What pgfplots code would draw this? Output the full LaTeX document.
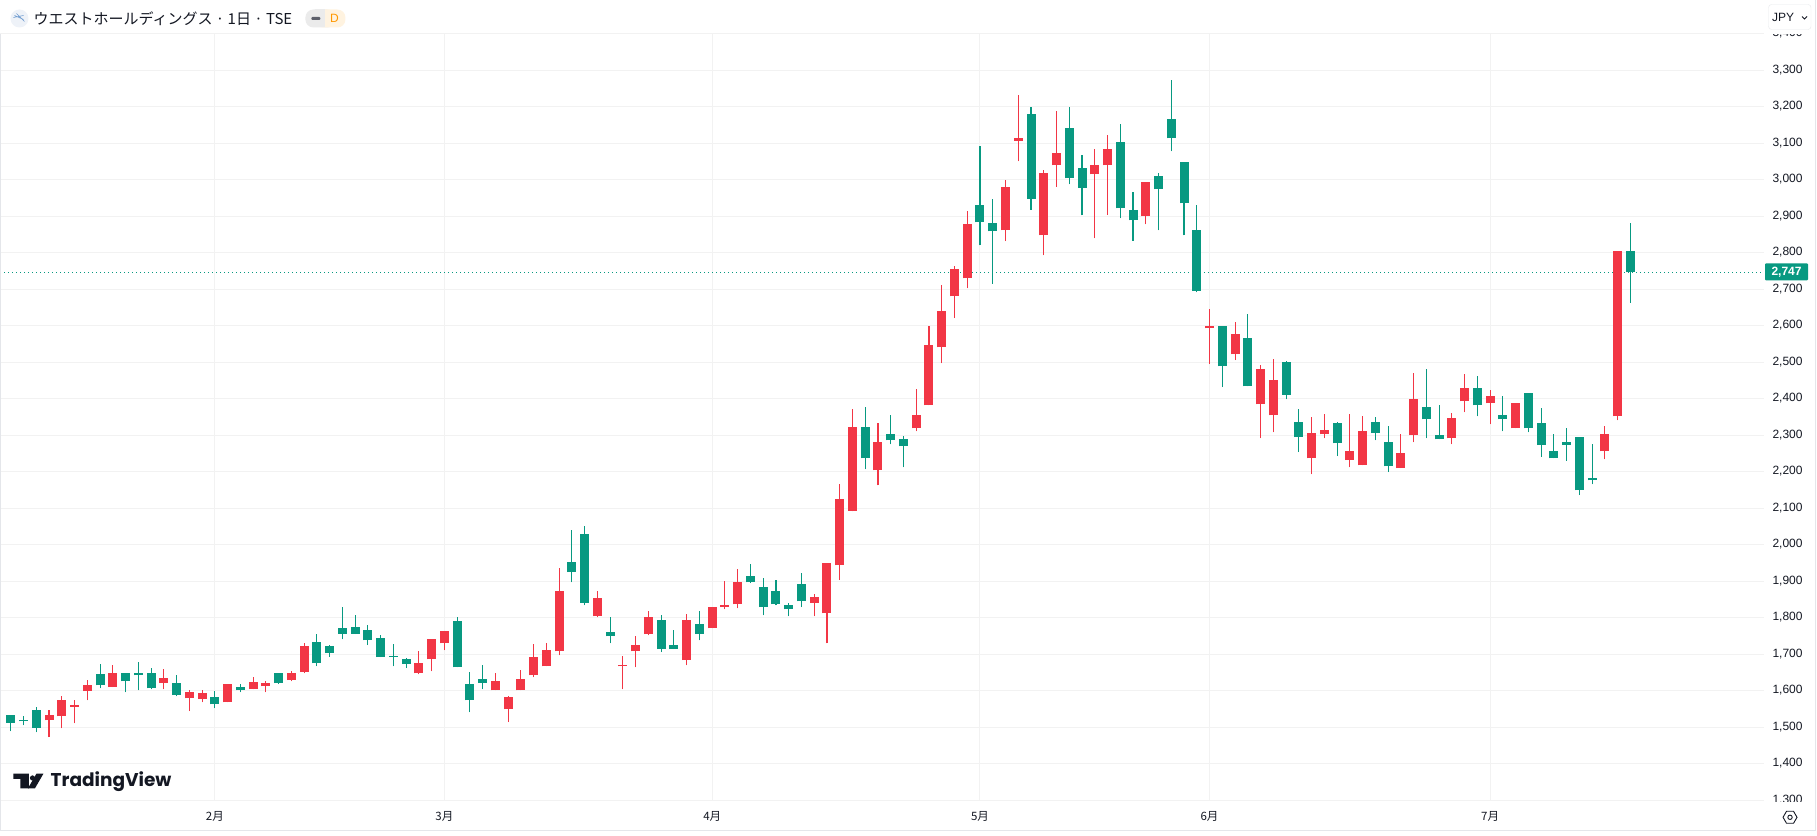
\documentclass[border=0pt]{standalone}
\usepackage{pgfplots}
\usepackage{pgfplotstable}
\usepackage{fontspec}
\pgfplotsset{compat=1.18}
\setmainfont{Liberation Sans}
\newfontfamily\cjk{Noto Sans CJK JP}
\newfontfamily\tvfont{Poppins}
\definecolor{tvgreen}{HTML}{089981}
\definecolor{tvred}{HTML}{F23645}
\definecolor{gridc}{HTML}{F2F2F2}
\definecolor{borderc}{HTML}{E4E6EA}
\definecolor{txt}{HTML}{131722}
\definecolor{iconbg}{HTML}{EEF2F8}
\definecolor{iconfg}{HTML}{6E9BD0}
\definecolor{pillg}{HTML}{EBEBEB}
\definecolor{pillo}{HTML}{FFF3E0}
\definecolor{dorange}{HTML}{FF9800}
\definecolor{dashc}{HTML}{5D606B}
\definecolor{btn}{HTML}{E8E9EC}
\pgfplotstableread{
x top bot hi lo
3 1533 1519 1547 1473
4 1574 1530 1585 1497
5 1560 1557 1574 1511
6 1615 1599 1629 1574
8 1648 1610 1670 1610
12 1634 1621 1659 1604
14 1596 1579 1601 1544
15 1593 1577 1601 1568
17 1618 1568 1618 1568
19 1623 1604 1637 1604
20 1621 1612 1626 1596
22 1648 1629 1653 1626
23 1722 1651 1730 1648
32 1675 1648 1708 1645
33 1741 1686 1741 1653
34 1763 1730 1763 1711
38 1626 1601 1648 1601
39 1582 1549 1585 1514
40 1631 1601 1656 1601
41 1694 1642 1727 1637
42 1711 1667 1730 1667
43 1873 1708 1936 1697
46 1853 1804 1873 1801
48 1670 1667 1695 1604
49 1725 1708 1749 1664
50 1801 1755 1818 1752
53 1793 1684 1810 1670
55 1831 1771 1831 1771
56 1834 1829 1900 1823
57 1897 1837 1933 1826
63 1856 1842 1864 1804
64 1949 1812 1949 1730
65 2125 1944 2166 1905
66 2322 2094 2371 2092
68 2281 2204 2333 2163
71 2357 2319 2426 2311
72 2549 2382 2599 2382
73 2640 2541 2711 2497
74 2757 2681 2763 2621
75 2878 2730 2916 2703
78 2982 2862 3001 2832
79 3116 3108 3232 3051
81 3018 2848 3026 2793
82 3073 3040 3188 2982
85 3042 3015 3086 2840
86 3086 3040 3122 2905
89 2993 2900 2993 2878
94 2601 2593 2645 2495
96 2579 2522 2612 2506
98 2481 2385 2492 2292
99 2451 2355 2508 2308
102 2306 2237 2349 2193
103 2314 2303 2358 2292
105 2256 2232 2358 2212
106 2311 2218 2352 2218
109 2251 2210 2303 2210
110 2401 2300 2470 2281
113 2347 2292 2360 2275
114 2429 2393 2467 2363
116 2407 2388 2423 2330
118 2390 2319 2390 2319
125 2303 2256 2327 2234
126 2804 2352 2804 2341
}\redcandles
\pgfplotstableread{
x top bot hi lo
0 1533 1512 1533 1489
1 1519 1516 1530 1505
2 1547 1498 1555 1486
7 1645 1615 1673 1607
9 1648 1626 1648 1596
10 1648 1642 1678 1601
11 1648 1607 1662 1604
13 1621 1588 1642 1585
16 1582 1563 1599 1552
18 1610 1601 1620 1596
21 1648 1621 1648 1618
24 1733 1675 1755 1667
25 1722 1703 1725 1694
26 1771 1757 1831 1741
27 1774 1757 1807 1755
28 1766 1738 1779 1725
29 1744 1692 1752 1692
30 1695 1692 1727 1667
31 1686 1673 1689 1662
35 1790 1664 1801 1664
36 1618 1574 1651 1541
37 1631 1621 1670 1604
44 1952 1925 2042 1897
45 2029 1842 2051 1834
47 1760 1749 1801 1730
51 1793 1714 1807 1706
52 1725 1714 1768 1714
54 1782 1755 1818 1738
58 1914 1897 1947 1895
59 1884 1829 1908 1807
60 1873 1837 1905 1834
61 1834 1823 1842 1804
62 1892 1845 1922 1829
67 2322 2237 2377 2207
69 2305 2286 2357 2275
70 2289 2270 2297 2212
76 2930 2884 3092 2821
77 2881 2859 2949 2716
80 3182 2949 3201 2919
83 3141 3004 3201 2988
84 3032 2979 3067 2903
87 3103 2922 3152 2895
88 2919 2889 2966 2834
90 3012 2974 3018 2862
91 3166 3114 3273 3078
92 3048 2936 3048 2848
93 2864 2695 2930 2692
95 2601 2489 2601 2432
97 2566 2434 2632 2434
100 2500 2412 2503 2399
101 2336 2295 2371 2254
104 2333 2278 2338 2243
107 2336 2306 2349 2286
108 2281 2215 2327 2199
111 2377 2344 2481 2292
112 2300 2289 2382 2289
115 2429 2382 2464 2352
117 2357 2344 2407 2311
119 2415 2319 2415 2308
120 2333 2273 2374 2242
121 2256 2237 2305 2237
122 2281 2273 2319 2231
123 2295 2149 2295 2136
124 2183 2177 2275 2166
127 2804 2747 2881 2664
}\greencandles
\newcommand{\candles}[2]{%
 \addplot[draw=none,mark=none,forget plot,error bars/.cd,y dir=plus,y explicit,error mark=none,
   error bar style={#2,line width=1.1pt}]
   table[x=x,y=lo,y error plus expr=\thisrow{hi}-\thisrow{lo}]{#1};
 \addplot[draw=none,mark=none,forget plot,error bars/.cd,y dir=plus,y explicit,error mark=none,
   error bar style={#2,line width=9pt}]
   table[x=x,y=bot,y error plus expr=\thisrow{top}-\thisrow{bot}]{#1};
}
\begin{document}
\begin{tikzpicture}[x=1pt,y=1pt]
\fill[white] (0,0) rectangle (1817,835);
\begin{axis}[
  at={(0pt,35pt)},anchor=south west,
  scale only axis,width=1764pt,height=766.5pt,
  xmin=-0.807,xmax=137.48,ymin=1300,ymax=3400,
  xtick={16,34,55,76,94,116},
  xticklabels={2月,3月,4月,5月,6月,7月},
  ytick={1300,1400,...,3400},
  yticklabel pos=right,
  xmajorgrids,ymajorgrids,
  major grid style={gridc,line width=1pt},
  axis line style={draw=none},
  major tick length=0pt,
  tick style={draw=none},
  clip=true,
  xticklabel style={font=\cjk\fontsize{11.5}{12}\selectfont,text=txt,yshift=-8pt},
  yticklabel style={font=\fontsize{12}{14}\selectfont,text=txt,anchor=west,xshift=5pt,yshift=0.7pt},
  /pgf/number format/assume math mode=true,
  /pgf/number format/1000 sep={,},
]
\addplot[tvgreen,line width=1pt,dash pattern=on 1pt off 3pt,forget plot] coordinates {(-0.807,2747) (137.48,2747)};
\candles{\redcandles}{tvred}
\candles{\greencandles}{tvgreen}
\end{axis}
% clip price labels at pane edges
\fill[white] (1765,801.5) rectangle (1817,835);
\fill[white] (1765,0) rectangle (1817,33);
% frame
\draw[borderc,line width=1pt] (0.5,5) -- (0.5,801);
\draw[borderc,line width=1pt] (0,5) -- (1815.5,5);
\draw[borderc,line width=1pt] (1815.5,5) -- (1815.5,835);
% current price tag
\fill[tvgreen,rounded corners=1pt] (1765,555) rectangle (1808,572);
\node[text=white,font=\bfseries\fontsize{12}{14}\selectfont,inner sep=0pt] at (1786.5,563.5) {2,747};
% title
\fill[iconbg] (19,817) circle (9);
\draw[iconfg,line width=0.6pt] (13,818) -- (23,820) (14,820) -- (23,816) (16,822) -- (24,814);
\node[anchor=west,inner sep=0pt,text=txt,font=\cjk\fontsize{15}{17}\selectfont] at (33,817) {ウエストホールディングス · 1日 · TSE};
\fill[pillg,rounded corners=8pt] (305,808) rectangle (335,826);
\fill[pillo,rounded corners=8pt] (315,808) rectangle (345,826);
\fill[pillg] (315,808) rectangle (325,826);
\fill[dashc,rounded corners=1pt] (311,815.5) rectangle (320,818.5);
\node[text=dorange,inner sep=0pt,font=\fontsize{12}{14}\selectfont] at (334,817) {D};
% JPY button
\draw[btn,fill=white,rounded corners=3pt] (1768.5,806) rectangle (1811,831);
\node[anchor=west,inner sep=0pt,text=txt,font=\fontsize{12}{14}\selectfont] at (1772,818) {JPY};
\draw[txt,line width=0.8pt] (1802,819) -- (1804.5,816.5) -- (1807,819);
% gear
\draw[txt,line width=0.9pt] (1783,18) -- (1786.5,24) -- (1793.5,24) -- (1797,18) -- (1793.5,12) -- (1786.5,12) -- cycle;
\draw[txt,line width=0.9pt] (1790,18) circle (2.2);
% logo
\fill[txt] (13,61.7) -- (28.3,61.7) -- (28.3,47) -- (20,47) -- (20,56.5) -- (13,56.5) -- cycle;
\fill[txt] (32,57.3) circle (2.6);
\fill[txt] (36,61.7) -- (43,61.7) -- (34.5,47) -- (27.5,47) -- cycle;
\node[anchor=west,inner sep=0pt,text=txt,font=\tvfont\bfseries\fontsize{18.5}{20}\selectfont] at (50,54) {TradingView};
\end{tikzpicture}
\end{document}
